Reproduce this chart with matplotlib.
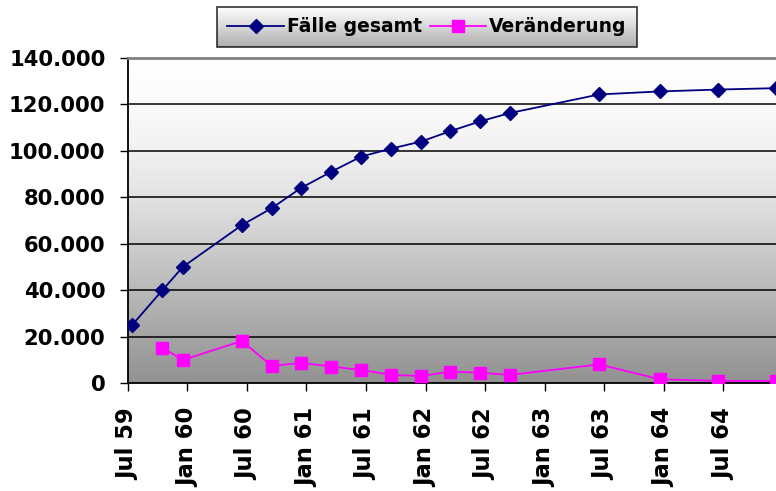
import matplotlib
matplotlib.use("Agg")
import matplotlib.pyplot as plt
import numpy as np

# ---- data ----
tick_labels = ["Jul 59", "Jan 60", "Jul 60", "Jan 61", "Jul 61", "Jan 62",
               "Jul 62", "Jan 63", "Jul 63", "Jan 64", "Jul 64"]
tick_months = [0, 6, 12, 18, 24, 30, 36, 42, 48, 54, 60]   # months after Jul 59

x_months = [0.45, 3.5, 5.55, 11.5, 14.5, 17.45, 20.5, 23.5, 26.55, 29.55,
            32.5, 35.5, 38.5, 47.5, 53.6, 59.45, 65.25]
faelle = [25000, 40000, 50000, 68000, 75300, 84000, 91000, 97500, 101000,
          104000, 108500, 112700, 116300, 124300, 125600, 126400, 127000]
veraenderung = [None, 15200, 9900, 18100, 7300, 8700, 7100, 5600, 3500, 3000,
                4900, 4400, 3500, 8000, 1600, 900, 900]

y_ticks = [0, 20000, 40000, 60000, 80000, 100000, 120000, 140000]
y_labels = ["0", "20.000", "40.000", "60.000", "80.000", "100.000", "120.000", "140.000"]

plt.rcParams['font.family'] = ['DejaVu Sans']
plt.rcParams['font.weight'] = 'bold'

W, H = 776, 491
fig = plt.figure(figsize=(W / 100, H / 100), dpi=100)
fig.patch.set_facecolor('white')

left, right, top, bottom = 127.7, 776, 58, 383
ax = fig.add_axes([left / W, 1 - bottom / H, (right - left) / W, (bottom - top) / H])

xmax = 65.3
ax.set_xlim(0, xmax)
ax.set_ylim(0, 140000)

# gradient background (white at top to gray at bottom)
stops = [0, .143, .286, .429, .571, .714, .857, 1]
vals = [255, 251, 241, 226, 206, 185, 165, 146]
t = np.linspace(0, 1, 400)
g = np.interp(t, stops, vals) / 255
img = np.repeat(g[:, None, None], 3, axis=2)
ax.imshow(img, extent=[0, xmax, 0, 140000], aspect='auto', origin='upper', zorder=0)

# grid
ax.set_yticks(y_ticks)
ax.set_yticklabels(y_labels, fontsize=15.2, fontweight='bold')
for v in y_ticks[1:-1]:
    ax.axhline(v, color='black', lw=1.1, zorder=1)

ax.set_xticks(tick_months)
ax.set_xticklabels(tick_labels, rotation=90, fontsize=16.3, fontweight='bold')

ax.tick_params(axis='y', direction='out', length=6, width=1, pad=10)
ax.tick_params(axis='x', direction='out', length=6, width=1, pad=12)

for s in ['left', 'bottom']:
    ax.spines[s].set_color('black')
    ax.spines[s].set_linewidth(1.3)
ax.spines['right'].set_visible(False)
ax.spines['top'].set_color('#808080')
ax.spines['top'].set_linewidth(2.0)

xv = [x for x, v in zip(x_months, veraenderung) if v is not None]
vv = [v for v in veraenderung if v is not None]

l1, = ax.plot(x_months, faelle, color='#000080', lw=1.3, marker='D', ms=7.5,
              mfc='#000080', mec='#000080', zorder=3, label='Fälle gesamt')
l2, = ax.plot(xv, vv, color='#FF00FF', lw=1.3, marker='s', ms=9,
              mfc='#FF00FF', mec='#FF00FF', zorder=3, label='Veränderung')

leg = fig.legend(handles=[l1, l2], loc='center', bbox_to_anchor=(427 / W, 1 - 27 / H),
                 ncol=2, frameon=True, fancybox=False,
                 prop={'weight': 'bold', 'size': 13.5},
                 handlelength=3.0, handletextpad=0.15, columnspacing=0.45,
                 borderpad=0.55, edgecolor='black', facecolor='none')
leg.get_frame().set_linewidth(1.2)

fig.canvas.draw()
bb = leg.get_window_extent().transformed(fig.transFigure.inverted())
lax = fig.add_axes([bb.x0, bb.y0, bb.width, bb.height], zorder=1)
lg = np.linspace(0, 1, 64)
lgv = (255 - (255 - 175) * lg) / 255
lax.imshow(np.repeat(lgv[:, None, None], 3, axis=2), aspect='auto', extent=[0, 1, 0, 1])
lax.set_axis_off()
leg.set_zorder(10)

fig.savefig('out.png', dpi=100)
